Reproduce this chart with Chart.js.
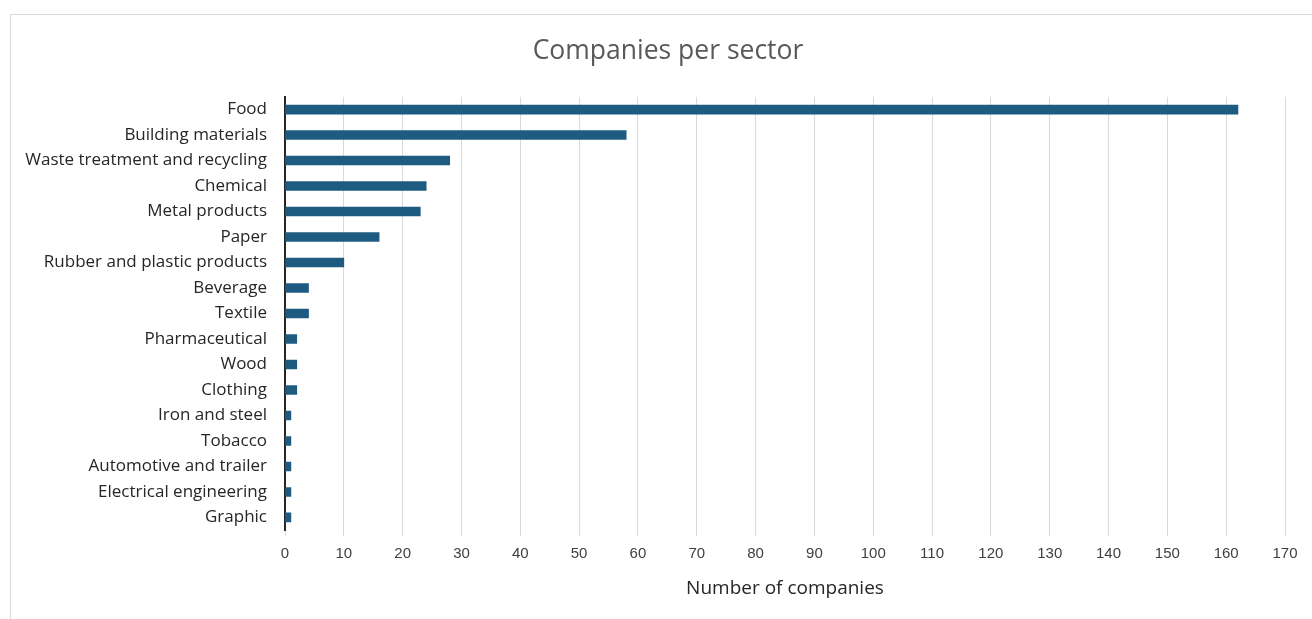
<!DOCTYPE html>
<html>
<head>
<meta charset="utf-8">
<script src="https://cdn.jsdelivr.net/npm/chart.js@4"></script>
<style>
    html, body { margin: 0; padding: 0; background: #fff; }
    #wrap { position: relative; width: 1312px; height: 619px; overflow: hidden; }
    #frame {
        position: absolute; left: 10px; top: 14px; width: 1330px; height: 640px;
        border: 1px solid #d9d9d9; box-sizing: border-box;
    }
    #chart { position: absolute; left: 0; top: 0; }
</style>
</head>
<body>
<div id="wrap">
    <div id="frame"></div>
    <canvas id="chart" width="1336" height="619"></canvas>
</div>
<script>
    'use strict';

    const sectors = [
        'Food', 'Building materials', 'Waste treatment and recycling', 'Chemical',
        'Metal products', 'Paper', 'Rubber and plastic products', 'Beverage',
        'Textile', 'Pharmaceutical', 'Wood', 'Clothing', 'Iron and steel',
        'Tobacco', 'Automotive and trailer', 'Electrical engineering', 'Graphic'
    ];
    const companies = [162, 58, 28, 24, 23, 16, 10, 4, 4, 2, 2, 2, 1, 1, 1, 1, 1];
    const xTicks = [0, 10, 20, 30, 40, 50, 60, 70, 80, 90, 100, 110, 120, 130, 140, 150, 160, 170];

    const textFont = '"Open Sans", "Liberation Sans", sans-serif';
    const tickFont = '"Liberation Sans", Arial, sans-serif';

    const ctx = document.getElementById('chart').getContext('2d');
    const chart = new Chart(ctx, {
        type: 'bar',
        data: {
            labels: sectors,
            datasets: [{
                label: 'Number of companies',
                data: companies,
                backgroundColor: '#1d5c80',
                borderWidth: 0,
                barThickness: 9
            }]
        },
        options: {
            indexAxis: 'y',
            responsive: false,
            animation: false,
            layout: {
                padding: { top: 20, right: 0, bottom: 19, left: 0 }
            },
            plugins: {
                legend: { display: false },
                tooltip: { enabled: false },
                title: {
                    display: true,
                    text: 'Companies per sector',
                    color: '#595959',
                    font: { family: textFont, size: 26.5, weight: 'normal', lineHeight: 1.2 },
                    padding: { top: 16, bottom: 29 }
                }
            },
            scales: {
                x: {
                    min: 0,
                    max: 170,
                    afterBuildTicks: (scale) => {
                        scale.ticks = xTicks.map(v => ({ value: v }));
                    },
                    grid: {
                        color: '#d9d9d9',
                        lineWidth: 1,
                        drawTicks: true,
                        tickLength: 6
                    },
                    border: { display: false },
                    ticks: {
                        color: '#404040',
                        padding: 9,
                        font: { family: tickFont, size: 15 }
                    },
                    title: {
                        display: true,
                        text: 'Number of companies',
                        color: '#262626',
                        font: { family: textFont, size: 19, lineHeight: 1.2 },
                        padding: { top: 5, bottom: 0 }
                    }
                },
                y: {
                    afterFit: (scale) => {
                        scale.width = 285;
                    },
                    grid: { display: false },
                    border: { display: true, color: '#262626', width: 2 },
                    ticks: {
                        color: '#262626',
                        padding: 10,
                        autoSkip: false,
                        font: { family: textFont, size: 17 }
                    }
                },
                // empty right-hand axis: keeps the plot off the right edge
                // while the chart title stays centred on the whole frame
                yRight: {
                    position: 'right',
                    afterFit: (scale) => {
                        scale.width = 51;
                    },
                    grid: { display: false },
                    border: { display: false },
                    ticks: { display: false }
                }
            }
        }
    });
</script>
</body>
</html>
